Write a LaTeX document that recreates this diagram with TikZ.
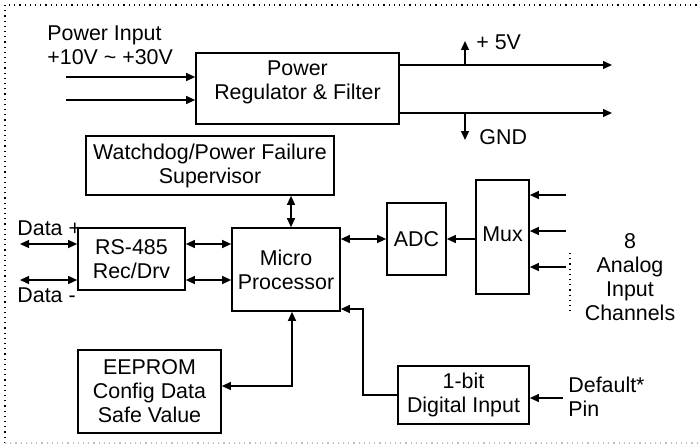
\documentclass[tikz,border=0pt]{standalone}
\usepackage{fontspec}
\setmainfont{Liberation Sans}
\usetikzlibrary{arrows.meta,calc}
\begin{document}
\begin{tikzpicture}[x=0.5pt,y=-0.5pt,
  box/.style={draw,line width=0.85pt,inner sep=0pt,align=center,font=\fontsize{10.7}{12}\selectfont},
  lbl/.style={inner sep=0pt,font=\fontsize{10.7}{12}\selectfont},
  conn/.style={line width=0.65pt},
  >={Triangle[length=4.5pt,width=4pt]}]
\useasboundingbox (0,0) rectangle (699,444);
% frame
\draw[dotted,line width=0.6pt] (5,443) -- (5,5) -- (699,5);
\draw[dotted,line width=0.6pt,gray!50] (5,443) -- (699,443);
% boxes
\node[box,minimum width=101.5pt,minimum height=35.5pt] (power) at (297.5,88.5) {};
\node[lbl,align=center] (powertxt) at (297.5,82.5) {Power\\Regulator \& Filter};
\node[box,minimum width=124pt,minimum height=29.5pt] (wd) at (210,165.5) {Watchdog/Power Failure\\Supervisor};
\node[box,minimum width=54pt,minimum height=41.5pt] (micro) at (286,269.5) {Micro\\Processor};
\node[box,minimum width=53.5pt,minimum height=31pt] (rs) at (131.5,259) {RS-485\\Rec/Drv};
\node[box,minimum width=29.5pt,minimum height=36pt] (adc) at (416.5,239) {ADC};
\node[box,minimum width=26.5pt,minimum height=57pt] (mux) at (502.5,237) {};
\node[lbl] (muxtxt) at (502.5,234) {Mux};
\node[box,minimum width=71.5pt,minimum height=41.5pt] (eeprom) at (149.5,391.5) {EEPROM\\Config Data\\Safe Value};
\node[box,minimum width=65.5pt,minimum height=29pt] (dig) at (463.5,395) {1-bit\\Digital Input};
% free-end coordinates
\coordinate (in1) at (66,77);
\coordinate (in2) at (66,100);
\coordinate (out1) at (612,65);
\coordinate (out2) at (612,113);
\coordinate (v5) at (465,41);
\coordinate (gnd) at (465,140);
\coordinate (wdx) at (291,0);
\coordinate (dp) at (20,244);
\coordinate (dm) at (20,280);
\coordinate (m1) at (566,195);
\coordinate (m2) at (566,231);
\coordinate (m3) at (566,267);
\coordinate (ee) at (292,386);
\coordinate (dc) at (363,309);
\coordinate (dpin) at (563,398);
\coordinate (dt1) at (570,253);
\coordinate (dt2) at (570,314);
% connectors
\draw[conn,->] (in1) -- (power.west |- in1);
\draw[conn,->] (in2) -- (power.west |- in2);
\draw[conn,->] (power.east |- out1) -- (out1);
\draw[conn,->] (power.east |- out2) -- (out2);
\draw[conn,->] (v5 |- out1) -- (v5);
\draw[conn,->] (gnd |- out2) -- (gnd);
\draw[conn,<->] (wdx |- wd.south) -- (wdx |- micro.north);
\draw[conn,<->] (dp) -- (rs.west |- dp);
\draw[conn,<->] (dm) -- (rs.west |- dm);
\draw[conn,<->] (rs.east |- dp) -- (micro.west |- dp);
\draw[conn,<->] (rs.east |- dm) -- (micro.west |- dm);
\draw[conn,<->] (micro.east |- adc.west) -- (adc.west);
\draw[conn,->] (mux.west |- adc.east) -- (adc.east);
\draw[conn,->] (m1) -- (mux.east |- m1);
\draw[conn,->] (m2) -- (mux.east |- m2);
\draw[conn,->] (m3) -- (mux.east |- m3);
\draw[dotted,line width=0.6pt] (dt1) -- (dt2);
\draw[conn,<->] (eeprom.east |- ee) -- (ee) -- (ee |- micro.south);
\draw[conn,->] (dig.west) -- (dig.west -| dc) -- (dc) -- (micro.east |- dc);
\draw[conn,->] (dpin) -- (dig.east |- dpin);
% labels
\node[lbl,anchor=west,align=left] (pinl) at (47,45.5) {Power Input\\+10V \textasciitilde{} +30V};
\node[lbl,anchor=west] (p5) at (476,42) {+ 5V};
\node[lbl,anchor=west] (gndl) at (479,137) {GND};
\node[lbl,anchor=west] (dpl) at (17,228) {Data +};
\node[lbl,anchor=west] (dml) at (17,295) {Data -};
\node[lbl,align=center] (ch) at (630,277.5) {8\\Analog\\Input\\Channels};
\node[lbl,anchor=west,align=left] (defl) at (568,397) {Default*\\Pin};
\end{tikzpicture}
\end{document}
